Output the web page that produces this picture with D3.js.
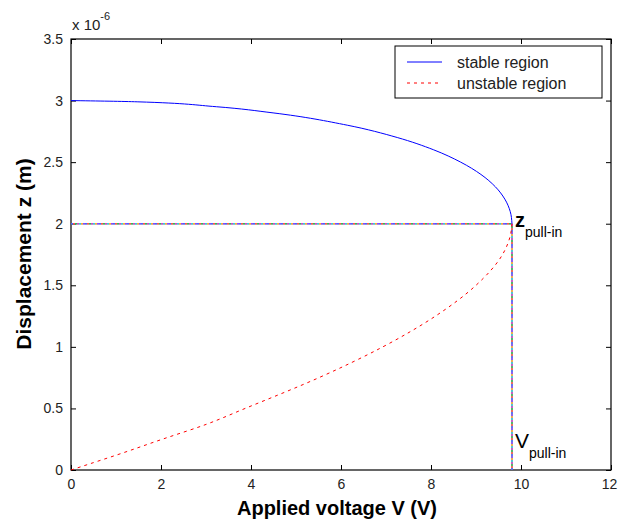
<!DOCTYPE html>
<html>
<head>
<meta charset="utf-8">
<script src="https://cdn.jsdelivr.net/npm/d3@7"></script>
<style>
  body { margin: 0; background: #fff; }
  text { font-family: "Liberation Sans", Arial, sans-serif; }
</style>
</head>
<body>
<div class="chart"></div>
<script>
// values (z in micrometres, V in volts)
var stableV = [0, 1.47, 3.23, 4.49, 6.14, 7.25, 8.06, 8.66, 9.11, 9.43, 9.64, 9.76, 9.8];
var stableZ = [3.0, 2.99, 2.95, 2.9, 2.8, 2.7, 2.6, 2.5, 2.4, 2.3, 2.2, 2.1, 2.0];
var unstableV = [0, 0.5, 1.0, 2.03, 3.0, 3.87, 5.51, 6.93, 8.1, 9.0, 9.59, 9.76, 9.8];
var unstableZ = [0, 0.06, 0.12, 0.25, 0.37, 0.5, 0.75, 1.0, 1.25, 1.5, 1.75, 1.9, 2.0];
var pullInV = 9.8;
var pullInZ = 2.0;
var xTicks = [0, 2, 4, 6, 8, 10, 12];
var yTicks = [0, 0.5, 1, 1.5, 2, 2.5, 3, 3.5];
var legendLabels = ["stable region", "unstable region"];

var svgWidth = 618;
var svgHeight = 522;
var margin = { top: 39, right: 7, bottom: 52, left: 71 };
var width = svgWidth - margin.left - margin.right;
var height = svgHeight - margin.top - margin.bottom;

var svg = d3.select(".chart")
  .append("svg")
  .attr("width", svgWidth)
  .attr("height", svgHeight);

var chartGroup = svg.append("g")
  .attr("transform", `translate(${margin.left}, ${margin.top})`);

var x = d3.scaleLinear().domain([0, 12]).range([0, width]);
var y = d3.scaleLinear().domain([0, 3.5]).range([height, 0]);

// axes with inward ticks on all four sides (matlab box)
function styleAxis(g) {
  g.select(".domain").remove();
  g.selectAll("line").attr("stroke", "#000");
  g.selectAll("text").attr("fill", "#222").style("font-size", "14px");
}
chartGroup.append("g")
  .attr("transform", `translate(0, ${height})`)
  .call(d3.axisBottom(x).tickValues(xTicks).tickSizeInner(-5).tickSizeOuter(0).tickPadding(9).tickFormat(d3.format("d")))
  .call(styleAxis)
  .selectAll("text").filter(d => d === 12).attr("dx", -2);
chartGroup.append("g")
  .call(d3.axisTop(x).tickValues(xTicks).tickSizeInner(-5).tickSizeOuter(0).tickFormat(""))
  .call(styleAxis);
chartGroup.append("g")
  .call(d3.axisLeft(y).tickValues(yTicks).tickSizeInner(-5).tickSizeOuter(0).tickPadding(8).tickFormat(d => d))
  .call(styleAxis);
chartGroup.append("g")
  .attr("transform", `translate(${width}, 0)`)
  .call(d3.axisRight(y).tickValues(yTicks).tickSizeInner(-5).tickSizeOuter(0).tickFormat(""))
  .call(styleAxis);

chartGroup.append("rect")
  .attr("width", width)
  .attr("height", height)
  .attr("fill", "none")
  .attr("stroke", "#000")
  .attr("stroke-width", 1.2);

// pull-in guide lines, drawn as overlaid coloured dashes
var guideColors = ["#4466ff", "#ff5544", "#33bb55", "#cc44cc", "#33ccdd", "#ffaa33", "#8844ff"];
var guides = [
  [[0, pullInZ], [pullInV, pullInZ]],
  [[pullInV, 0], [pullInV, pullInZ]]
];
var lineGen = d3.line().x(d => x(d[0])).y(d => y(d[1]));
guides.forEach(function(g) {
  chartGroup.append("path")
    .attr("d", lineGen(g))
    .attr("stroke", "#999")
    .attr("stroke-width", 1.5)
    .attr("fill", "none");
  guideColors.forEach(function(c, i) {
    chartGroup.append("path")
      .attr("d", lineGen(g))
      .attr("stroke", c)
      .attr("stroke-width", 1.5)
      .attr("fill", "none")
      .attr("stroke-dasharray", `2,${2 * (guideColors.length - 1)}`)
      .attr("stroke-dashoffset", -2 * i);
  });
});

var curve = d3.line().x(d => x(d[0])).y(d => y(d[1])).curve(d3.curveMonotoneY);

var stableData = stableV.map((v, i) => [v, stableZ[i]]);
var unstableData = unstableV.map((v, i) => [v, unstableZ[i]]);

chartGroup.append("path")
  .datum(unstableData)
  .attr("d", curve)
  .attr("fill", "none")
  .attr("stroke", "#ff0000")
  .attr("stroke-width", 1)
  .attr("stroke-dasharray", "3,4");

chartGroup.append("path")
  .datum(stableData)
  .attr("d", curve)
  .attr("fill", "none")
  .attr("stroke", "#0000ff")
  .attr("stroke-width", 1);

// annotations
var zLabel = chartGroup.append("text")
  .attr("x", x(pullInV) + 3)
  .attr("y", y(pullInZ) + 3)
  .style("font-size", "20px")
  .style("font-weight", "bold")
  .text("z");
zLabel.append("tspan")
  .attr("dy", 10)
  .style("font-size", "14px")
  .style("font-weight", "normal")
  .text("pull-in");

var vLabel = chartGroup.append("text")
  .attr("x", x(pullInV) + 3)
  .attr("y", y(0) - 22)
  .style("font-size", "21px")
  .text("V");
vLabel.append("tspan")
  .attr("dy", 10)
  .style("font-size", "14px")
  .text("pull-in");

// exponent label
var expLabel = svg.append("text")
  .attr("x", 72)
  .attr("y", 30)
  .style("font-size", "15px")
  .attr("fill", "#222")
  .text("x 10");
expLabel.append("tspan")
  .attr("dy", -10)
  .style("font-size", "11px")
  .text("-6");

// axis titles
svg.append("text")
  .attr("x", 337)
  .attr("y", 515)
  .attr("text-anchor", "middle")
  .style("font-size", "20px")
  .style("font-weight", "bold")
  .text("Applied voltage V (V)");

svg.append("text")
  .attr("transform", "rotate(-90)")
  .attr("x", -254)
  .attr("y", 31)
  .attr("text-anchor", "middle")
  .style("font-size", "21px")
  .style("font-weight", "bold")
  .text("Displacement z (m)");

// legend
var legend = svg.append("g").attr("transform", "translate(395, 46)");
legend.append("rect")
  .attr("width", 207)
  .attr("height", 52)
  .attr("fill", "#fff")
  .attr("stroke", "#000");
var legendStyles = [
  { color: "#0000ff", dash: null },
  { color: "#ff0000", dash: "3,4" }
];
legendLabels.forEach(function(label, i) {
  var ly = 16 + i * 21;
  legend.append("line")
    .attr("x1", 12).attr("x2", 47)
    .attr("y1", ly).attr("y2", ly)
    .attr("stroke", legendStyles[i].color)
    .attr("stroke-dasharray", legendStyles[i].dash);
  legend.append("text")
    .attr("x", 62)
    .attr("y", ly + 6)
    .style("font-size", "16px")
    .attr("fill", "#222")
    .text(label);
});
</script>
</body>
</html>
